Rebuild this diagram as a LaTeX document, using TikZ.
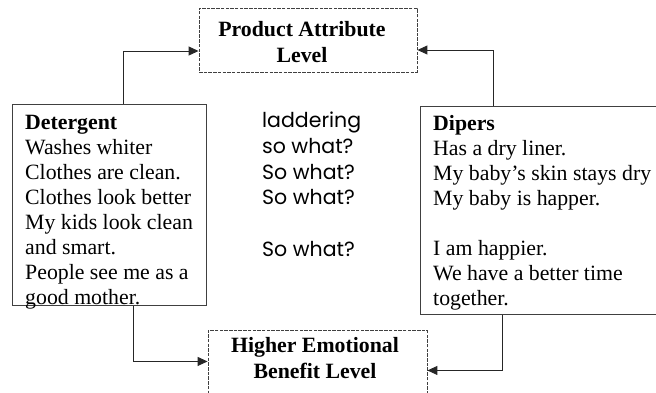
\documentclass[tikz,border=0pt]{standalone}
\usepackage{fontspec}
\setmainfont{Liberation Serif}
\newfontfamily\gothic{Poppins}
\usetikzlibrary{arrows.meta}
\newcommand{\bodysize}{\fontsize{21.8}{25}\selectfont}
\begin{document}
\begin{tikzpicture}[x=1pt, y=-1pt,
  lvl/.style={draw=black!75, line width=0.9pt, dash pattern=on 3.5pt off 1.2pt, inner sep=0pt},
  brand/.style={draw=black!75, line width=1pt, anchor=north west, inner sep=0pt},
  head/.style={font=\fontsize{21.8}{26}\selectfont\bfseries, align=center, inner sep=0pt},
  txt/.style={font=\bodysize, align=left, anchor=north west, inner sep=0pt},
  arr/.style={-{Triangle[length=10pt,width=9pt]}, draw=black!85, line width=1pt}]
  \useasboundingbox (0,0) rectangle (656,392);
  \clip (0,0) rectangle (656,392);

  % level boxes
  \node[lvl, minimum width=218, minimum height=64] (pal) at (308,40) {};
  \node[head] (palt) at (302,42.5) {Product Attribute\\Level};
  \node[lvl, minimum width=219, minimum height=80, anchor=north] (hel) at (317.5,330) {};
  \node[head] (helt) at (315,358) {Higher Emotional\\Benefit Level};

  % the two brands
  \node[brand, minimum width=194, minimum height=201] (det) at (12,104) {};
  \node[txt] (dett) at (25,114.6) {\textbf{Detergent}\\Washes whiter\\Clothes are clean.\\
    Clothes look better\\My kids look clean\\and smart.\\People see me as a\\good mother.};
  \node[brand, minimum width=260, minimum height=208] (dip) at (420,106) {};
  \node[txt] (dipt) at (433,115.6) {\textbf{Dipers}\\Has a dry liner.\\My baby’s skin stays dry\\
    My baby is happer.\\[25pt]I am happier.\\We have a better time\\together.};

  \node[txt, font=\gothic\fontsize{20.5}{25.7}\selectfont] (lad) at (262,112) {laddering\\so what?\\So what?\\
    So what?\\[25.7pt]So what?};

  \draw[arr] ([xshift=14pt]det.north) |- ([yshift=-11pt]pal.west);
  \draw[arr] ([xshift=73pt]dip.north west) |- ([yshift=-10pt]pal.east);
  \draw[arr] ([xshift=121pt]det.south west) |- ([yshift=9pt]hel.west);
  \draw[arr] ([xshift=82pt]dip.south west) |- (hel.east);
\end{tikzpicture}
\end{document}
